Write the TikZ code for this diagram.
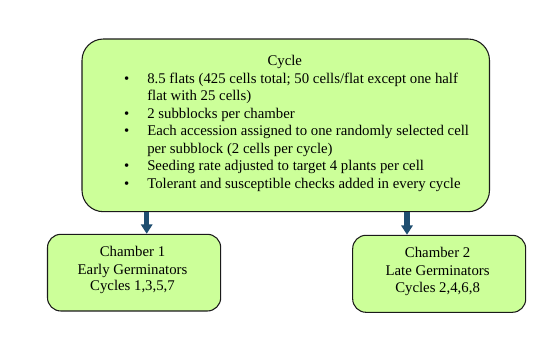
\documentclass[tikz,border=0pt]{standalone}
\usepackage{fontspec}
\setmainfont{LiberationSerif}[Extension=.ttf, UprightFont=*-Regular, BoldFont=*-Bold, ItalicFont=*-Italic, BoldItalicFont=*-BoldItalic]
\usetikzlibrary{arrows.meta}
\definecolor{boxfill}{HTML}{CCFF99}
\definecolor{boxline}{HTML}{1A1A1A}
\definecolor{arrowcol}{HTML}{1F4E70}
\tikzset{
  bigbox/.style={draw=boxline, fill=boxfill, line width=0.8pt, rounded corners=16pt, inner sep=0pt},
  smallbox/.style={draw=boxline, fill=boxfill, line width=0.8pt, rounded corners=10pt, inner sep=0pt},
  txt/.style={inner sep=0pt, font=\fontsize{11.1pt}{13.1pt}\selectfont},
  linetxt/.style={txt, anchor=base west},
  ctxt/.style={txt, anchor=base},
  bul/.style={txt, anchor=base},
  blockarrow/.style={draw=arrowcol, line width=4.1pt, -{Triangle[width=8.4pt,length=7pt]}}
}
\begin{document}
\begin{tikzpicture}[x=0.75pt,y=-0.75pt]
\useasboundingbox (0,0) rectangle (547,346);
\node[bigbox, minimum width=305.6pt, minimum height=129.5pt] (cycle) at (285.75,125.35) {};
\node[smallbox, minimum width=129.9pt, minimum height=57.5pt] (ch1) at (134.1,272.65) {};
\node[smallbox, minimum width=129.75pt, minimum height=57.75pt] (ch2) at (439.2,273.8) {};
% cycle text
\node[ctxt] (title) at (284.8,66) {Cycle};
\node[bul] (b1) at (126.7,83.5) {•};
\node[linetxt] (l1) at (147,83.5) {8.5 flats (425 cells total; 50 cells/flat except one half};
\node[linetxt] (l2) at (147,101) {flat with 25 cells)};
\node[bul] (b2) at (126.7,118.5) {•};
\node[linetxt] (l3) at (147,118.5) {2 subblocks per chamber};
\node[bul] (b3) at (126.7,136) {•};
\node[linetxt] (l4) at (147,136) {Each accession assigned to one randomly selected cell};
\node[linetxt] (l5) at (147,153.5) {per subblock (2 cells per cycle)};
\node[bul] (b4) at (126.7,171) {•};
\node[linetxt] (l6) at (147,171) {Seeding rate adjusted to target 4 plants per cell};
\node[bul] (b5) at (126.7,188.5) {•};
\node[linetxt] (l7) at (147,188.5) {Tolerant and susceptible checks added in every cycle};
% chamber texts
\node[ctxt] (c1a) at (132.5,256.7) {Chamber 1};
\node[ctxt] (c1b) at (132.5,274) {Early Germinators};
\node[ctxt] (c1c) at (132.5,291) {Cycles 1,3,5,7};
\node[ctxt] (c2a) at (437.6,257.3) {Chamber 2};
\node[ctxt] (c2b) at (437.6,275) {Late Germinators};
\node[ctxt] (c2c) at (437.6,292.3) {Cycles 2,4,6,8};
% arrows
\coordinate (ax1) at (146.7,0);
\coordinate (ax2) at (407,0);
\draw[blockarrow] (ax1 |- cycle.south) -- (ax1 |- ch1.north);
\draw[blockarrow] (ax2 |- cycle.south) -- (ax2 |- ch2.north);
\end{tikzpicture}
\end{document}
